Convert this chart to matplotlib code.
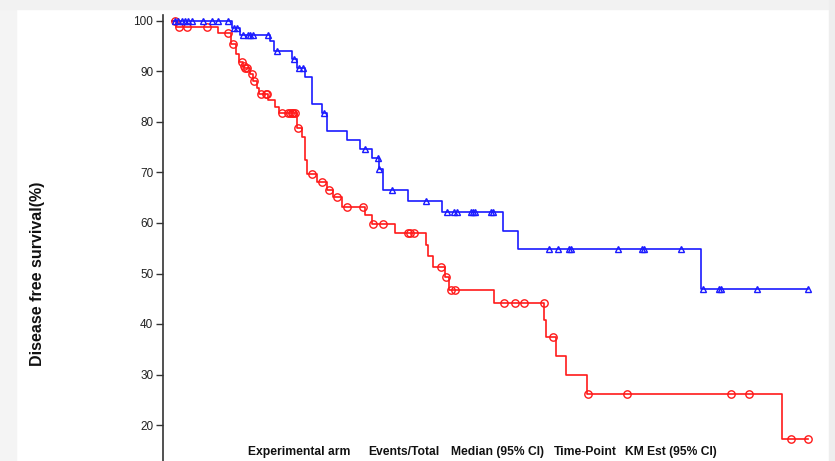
import numpy as np
import matplotlib
matplotlib.use('Agg')
import matplotlib.pyplot as plt
from matplotlib.patches import Rectangle

# time in months, survival in percent (step after each event)
blue_times = [0, 9.4, 10.6, 15.3, 15.9, 18.75, 19.5, 20.8, 21.9, 23.5, 24.2, 27.3,
              29.4, 31.25, 32.3, 33.0, 36.9, 42.2, 51.7, 54.1, 82.7]
blue_surv = [100, 98.7, 97.3, 96.0, 94.0, 92.5, 90.7, 89.0, 83.6, 81.7, 78.2, 76.4,
             74.6, 72.8, 70.6, 66.5, 64.4, 62.1, 58.4, 54.8, 46.9]
blue_censor = [0.5, 0.9, 1.6, 2.0, 2.5, 3.1, 4.8, 6.25, 7.2, 8.75, 9.7, 10.2,
               11.1, 11.9, 12.2, 12.7, 15.0, 16.4, 19.0, 19.8, 20.5, 23.7, 30.2,
               32.2, 32.4, 34.4, 39.7, 43.0, 44.1, 44.5, 46.7, 47.0, 47.3, 49.8,
               50.2, 58.9, 60.3, 62.0, 62.3, 69.7, 73.4, 73.75, 79.5, 83.0, 85.5,
               85.8, 91.4, 99.4]

red_times = [0, 0.6, 7.2, 9.2, 10.0, 10.5, 11.1, 11.3, 12.2, 12.7, 13.3, 13.6, 15.0,
             16.1, 16.7, 19.5, 20.3, 20.8, 21.1, 22.7, 24.2, 25.2, 26.6, 30.2, 31.25,
             34.8, 39.7, 40.0, 40.8, 42.7, 43.3, 50.3, 58.2, 58.4, 60.0, 61.6, 64.8,
             95.3]
red_surv = [100, 98.9, 97.6, 95.4, 93.5, 91.9, 91.0, 90.6, 89.5, 88.1, 86.8, 85.6, 84.4,
            83.0, 81.7, 78.8, 77.0, 72.5, 69.8, 68.1, 66.6, 65.1, 63.2, 61.6, 59.8,
            58.0, 55.6, 53.5, 51.3, 49.3, 46.8, 44.2, 40.8, 37.4, 33.7, 29.9, 26.1,
            17.2]
red_censor = [0.45, 1.1, 2.3, 5.5, 8.75, 9.5, 10.9, 11.2, 11.4, 11.7, 12.5, 12.8,
              13.9, 14.7, 14.8, 17.2, 18.1, 18.4, 18.75, 18.9, 19.2, 19.7, 21.9,
              23.4, 24.5, 25.8, 27.3, 29.8, 31.4, 33.0, 36.9, 37.2, 37.8, 42.0,
              42.8, 43.6, 44.2, 51.9, 53.6, 55.0, 58.1, 59.5, 65.0, 71.1, 87.3,
              90.2, 96.7, 99.4]

header = ['Experimental arm', 'Events/Total', 'Median (95% CI)', 'Time-Point', 'KM Est (95% CI)']
header_x = [248, 368, 451, 554, 625]  # pixel positions of the table header


def km_curve(ax, times, surv, censor, color, marker, ms):
    times = np.array(times + [censor[-1]])
    surv = np.array(surv + [surv[-1]])
    ax.step(times, surv, where='post', color=color, lw=1.2, zorder=2)
    idx = np.searchsorted(times, censor, side='right') - 1
    ax.plot(censor, surv[idx], linestyle='none', marker=marker, ms=ms,
            mfc='none', mec=color, mew=1.0, zorder=3)


W, H = 835, 461
fig = plt.figure(figsize=(W / 100, H / 100), dpi=100)
fig.patch.set_facecolor('white')

# screenshot frame (faint)
fig.patches.append(Rectangle((0, 0), 16 / W, 1, transform=fig.transFigure,
                             color='#f4f4f4', zorder=0))
fig.patches.append(Rectangle((0, 1 - 9 / H), 1, 9 / H, transform=fig.transFigure,
                             color='#f2f2f2', zorder=0))
fig.patches.append(Rectangle((829 / W, 0), 6 / W, 1, transform=fig.transFigure,
                             color='#eeeeee', zorder=0))

ax = fig.add_axes([163 / W, 0, (829 - 163) / W, (H - 15) / H])
ax.set_facecolor('none')

km_curve(ax, red_times, red_surv, red_censor, '#ff1a1a', 'o', 5.3)
km_curve(ax, blue_times, blue_surv, blue_censor, '#1a1aff', '^', 4.8)

px_per_unit_y = 5.05
ax.set_ylim(100 - (461 - 21) / px_per_unit_y, 100 + 6 / px_per_unit_y)
ax.set_xlim(-9 / 6.4, (829 - 172) / 6.4)
ax.set_yticks(range(20, 101, 10))
ax.set_xticks([])

for s in ['top', 'right', 'bottom']:
    ax.spines[s].set_visible(False)
ax.spines['left'].set_color('#333333')
ax.spines['left'].set_linewidth(1.2)
ax.tick_params(axis='y', length=5, width=1, color='#333333', pad=2,
               labelsize=8.5, labelcolor='#222222')
for lab in ax.get_yticklabels():
    lab.set_fontfamily('Liberation Sans')

fig.text(38 / W, 1 - 274 / H, 'Disease free survival(%)', rotation=90,
         ha='center', va='center', fontsize=11.5, fontweight='bold',
         family='Liberation Sans', color='#111111')

for txt, x in zip(header, header_x):
    fig.text(x / W, 1 - 452 / H, txt, ha='left', va='center', fontsize=8.7,
             fontweight='bold', family='Liberation Sans', color='#111111')

fig.savefig('out.png', dpi=100)
